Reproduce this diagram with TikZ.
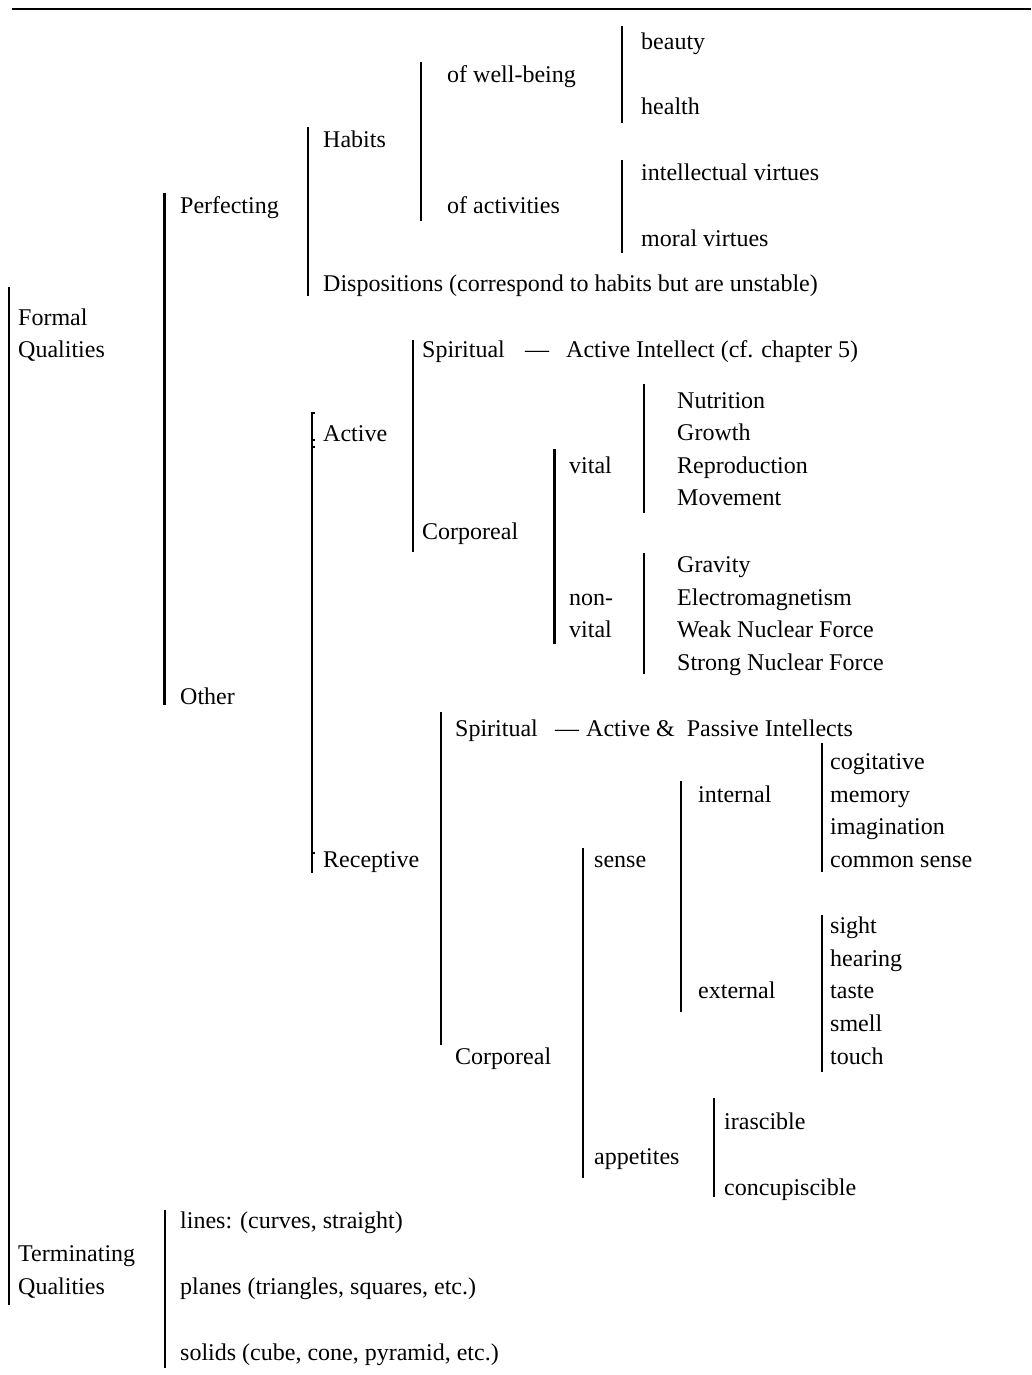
\documentclass[tikz,border=0pt]{standalone}
\usepackage{fontspec}
\setmainfont{Liberation Serif}
\begin{document}
\begin{tikzpicture}[x=1pt,y=-1pt,
  lbl/.style={anchor=base west, inner sep=0pt, font=\fontsize{24}{29}\selectfont},
  bar/.style={line width=2pt},
  thinbar/.style={line width=1.5pt},
  thickbar/.style={line width=3pt},
  tick/.style={line width=1.2pt}]
\useasboundingbox (0,0) rectangle (1031,1375);
% top rule
\coordinate (r1) at (12,9); \coordinate (r2) at (1031,9);
\draw[line width=2.4pt] (r1) -- (r2);

% ---- texts ----
\node[lbl] (beauty) at (641,50) {beauty};
\node[lbl] (wellbeing) at (447,83) {of well-being};
\node[lbl] (health) at (641,115) {health};
\node[lbl] (habits) at (323,148) {Habits};
\node[lbl] (intel) at (641,181) {intellectual virtues};
\node[lbl] (perf) at (180,213) {Perfecting};
\node[lbl] (activ) at (447,213) {of activities};
\node[lbl] (moral) at (641,246) {moral virtues};
\node[lbl] (disp) at (323,291) {Dispositions (correspond to habits but are unstable)};
\node[lbl] (formal) at (18,325) {Formal};
\node[lbl] (qual) at (18,357) {Qualities};
\node[lbl] (spA) at (422,357) {Spiritual};
\node[lbl] (dashA) at (525,357) {—};
\node[lbl] (aiA) at (566,357) {Active Intellect (cf. chapter 5)};
\node[lbl] (nutr) at (677,408) {Nutrition};
\node[lbl] (growth) at (677,440) {Growth};
\node[lbl] (active) at (323,441) {Active};
\node[lbl] (vital) at (569,473) {vital};
\node[lbl] (repro) at (677,473) {Reproduction};
\node[lbl] (move) at (677,505) {Movement};
\node[lbl] (corpA) at (422,539) {Corporeal};
\node[lbl] (grav) at (677,572) {Gravity};
\node[lbl] (non) at (569,605) {non-};
\node[lbl] (elec) at (677,605) {Electromagnetism};
\node[lbl] (vital2) at (569,637) {vital};
\node[lbl] (weak) at (677,637) {Weak Nuclear Force};
\node[lbl] (strong) at (677,670) {Strong Nuclear Force};
\node[lbl] (other) at (180,704) {Other};
\node[lbl] (spR) at (455,736) {Spiritual};
\node[lbl] (dashR) at (555,736) {—};
\node[lbl] (apR) at (586,736) {Active \&\ \ Passive Intellects};
\node[lbl] (cog) at (830,769) {cogitative};
\node[lbl] (internal) at (698,802) {internal};
\node[lbl] (memory) at (830,802) {memory};
\node[lbl] (imag) at (830,834) {imagination};
\node[lbl] (recep) at (323,867) {Receptive};
\node[lbl] (sense) at (594,867) {sense};
\node[lbl] (common) at (830,867) {common sense};
\node[lbl] (sight) at (830,933) {sight};
\node[lbl] (hearing) at (830,966) {hearing};
\node[lbl] (external) at (698,998) {external};
\node[lbl] (taste) at (830,998) {taste};
\node[lbl] (smell) at (830,1031) {smell};
\node[lbl] (corpR) at (455,1064) {Corporeal};
\node[lbl] (touch) at (830,1064) {touch};
\node[lbl] (iras) at (724,1129) {irascible};
\node[lbl] (appet) at (594,1164) {appetites};
\node[lbl] (concup) at (724,1195) {concupiscible};
\node[lbl] (lines) at (180,1228) {lines: (curves, straight)};
\node[lbl] (term) at (18,1261) {Terminating};
\node[lbl] (qual2) at (18,1294) {Qualities};
\node[lbl] (planes) at (180,1294) {planes (triangles, squares, etc.)};
\node[lbl] (solids) at (180,1360) {solids (cube, cone, pyramid, etc.)};

% ---- bars ----
\draw[thinbar] (9,287) -- (9,1305);
\draw[thickbar] (164,193) -- (164,705);
\draw[bar] (308,127) -- (308,296);
\draw[bar] (421,62) -- (421,221);
\draw[bar] (622,26) -- (622,123);
\draw[bar] (622,160) -- (622,253);
\draw[thinbar] (312,412) -- (312,873);
\draw[bar] (413,340) -- (413,552);
\draw[thickbar] (554,449) -- (554,644);
\draw[bar] (644,384) -- (644,513);
\draw[bar] (644,553) -- (644,674);
\draw[bar] (441,712) -- (441,1045);
\draw[bar] (583,848) -- (583,1178);
\draw[bar] (681,781) -- (681,1012);
\draw[bar] (822,743) -- (822,872);
\draw[bar] (822,915) -- (822,1072);
\draw[bar] (714,1098) -- (714,1197);
\draw[bar] (165,1210) -- (165,1368);
% small ticks on the Active/Receptive bar
\draw[tick] (312,413) -- (315,413);
\draw[tick] (312,440) -- (315,440);
\draw[tick] (312,447) -- (315,447);
\draw[tick] (312,853) -- (315,853);
\end{tikzpicture}
\end{document}
